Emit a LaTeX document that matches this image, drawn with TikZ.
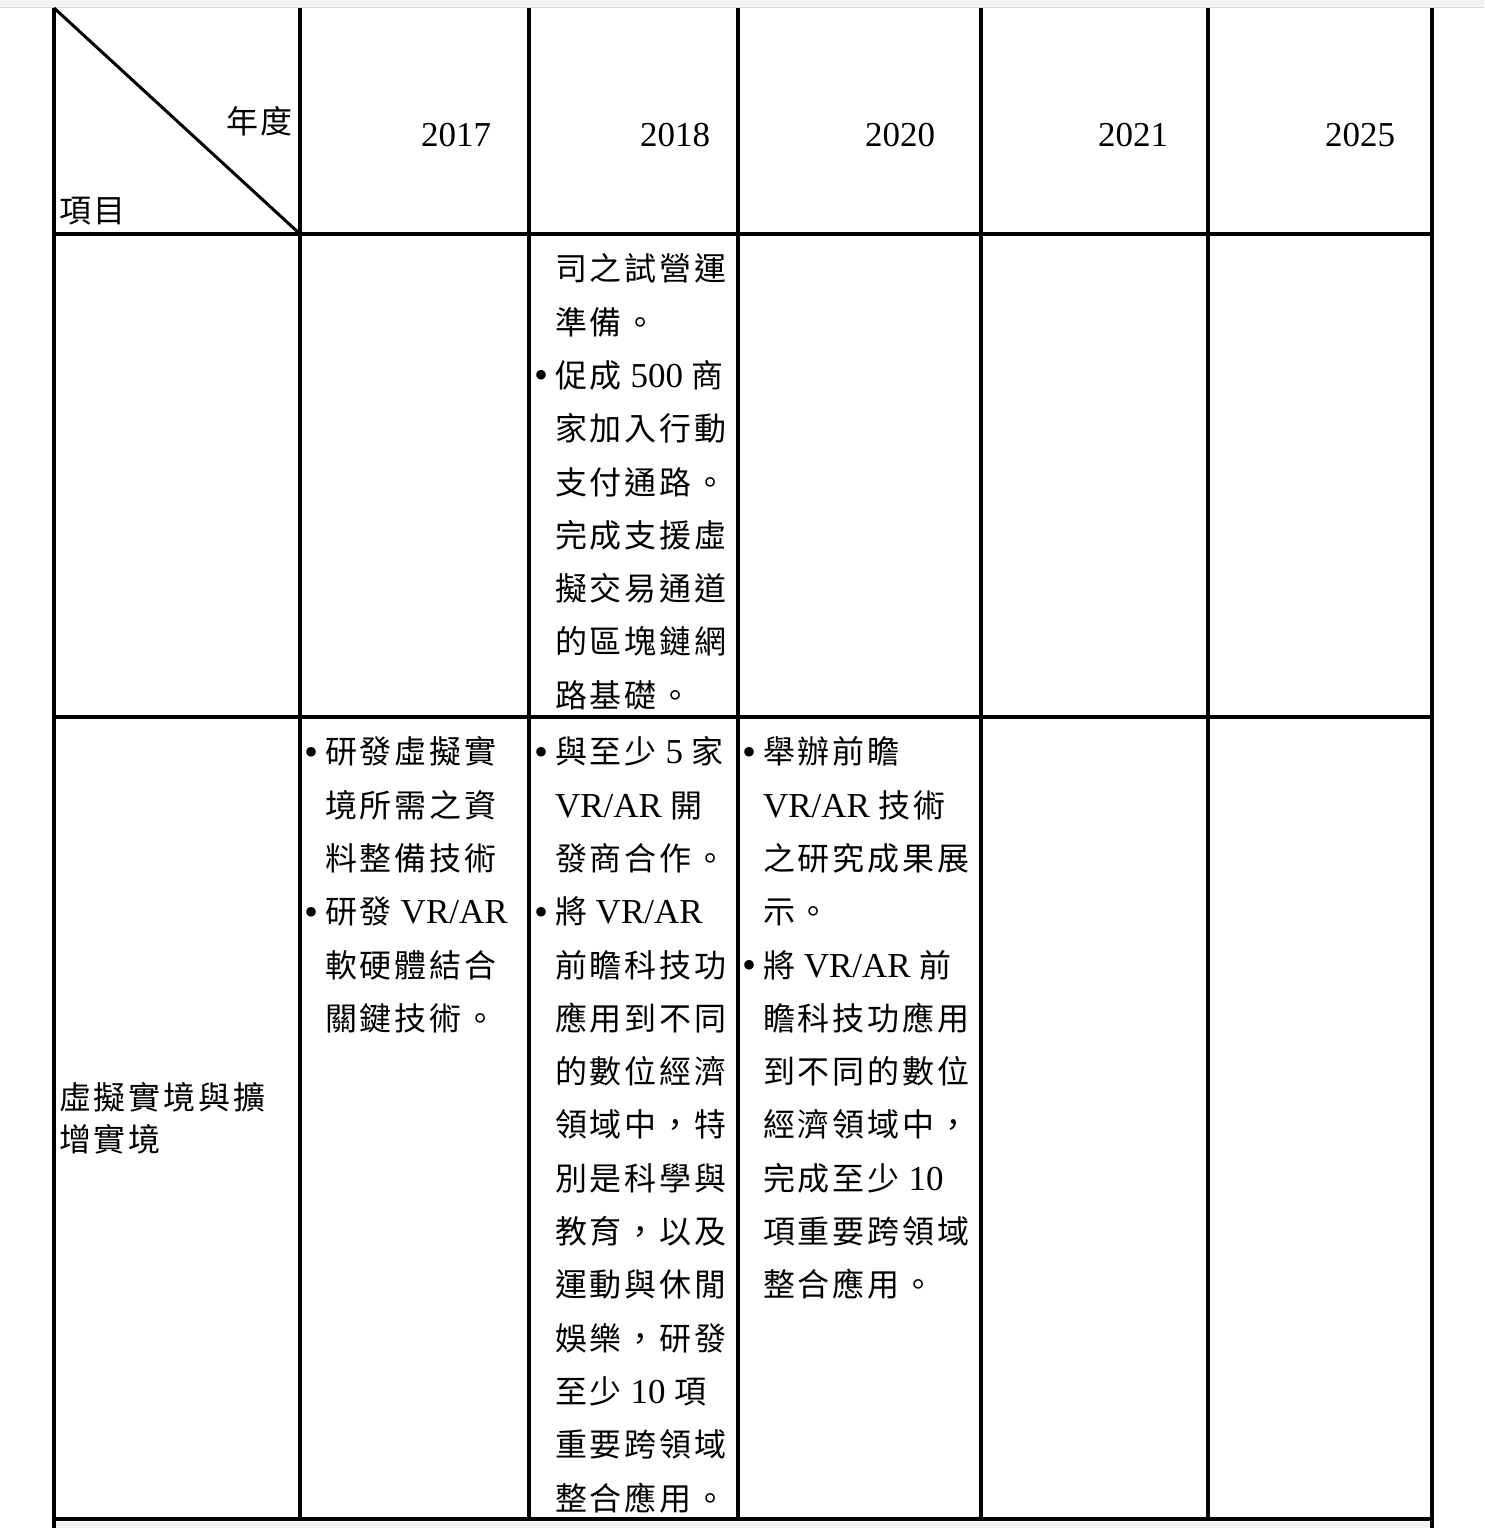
\documentclass[tikz,border=0pt]{standalone}
\usepackage{fontspec}
\setmainfont{Liberation Serif}
\newfontfamily\cjkfam{Noto Sans CJK TC}[Scale=0.914,LetterSpace=9.4]
\newcommand\zhtxt[1]{{\cjkfam #1}}
\newcommand\bul{\llap{\raisebox{-1.5pt}{\fontsize{40}{40}\selectfont •}\hspace{7pt}}}
\definecolor{stripgray}{HTML}{F2F2F2}
\definecolor{stripline}{HTML}{DADADA}
\begin{document}
\begin{tikzpicture}[x=1pt,y=-1pt,
  ln/.style={anchor=base west,inner sep=0pt,outer sep=0pt,font=\fontsize{35}{40}\selectfont},
  yr/.style={anchor=base east,inner sep=0pt,outer sep=0pt,font=\fontsize{35}{40}\selectfont},
  rule/.style={line width=3.5pt,black},
  diag/.style={line width=3pt,black}]
\useasboundingbox (0,0) rectangle (1484,1528);
% background strips
\fill[stripgray] (0,0) rectangle (1484,7.5);
\draw[stripline,line width=1pt] (0,7.5) -- (1484,7.5);
\fill[stripgray] (56,1521.5) rectangle (1430,1528);
% grid
\draw[rule] (54,8) -- (54,1528);
\draw[rule] (1432,8) -- (1432,1528);
\foreach \xx in {300,529,738,981,1208} \draw[rule] (\xx,8) -- (\xx,1519);
\foreach \yy in {234,717,1519} \draw[rule] (52.25,\yy) -- (1433.75,\yy);
\coordinate (dA) at (54,8);
\coordinate (dB) at (300,234);
\draw[diag] (dA) -- (dB);
% header
\node[ln] (hYear) at (226,133.4) {\zhtxt{年度}};
\node[ln] (hItem) at (59,222.4) {\zhtxt{項目}};
\node[yr] (y2017) at (491,146) {2017};
\node[yr] (y2018) at (710,146) {2018};
\node[yr] (y2020) at (935,146) {2020};
\node[yr] (y2021) at (1168,146) {2021};
\node[yr] (y2025) at (1395,146) {2025};
% row 1, 2018
\foreach \t [count=\i from 0] in {
  {\zhtxt{司之試營運}},
  {\zhtxt{準備。}},
  {\bul\zhtxt{促成} 500 \zhtxt{商}},
  {\zhtxt{家加入行動}},
  {\zhtxt{支付通路。}},
  {\zhtxt{完成支援虛}},
  {\zhtxt{擬交易通道}},
  {\zhtxt{的區塊鏈網}},
  {\zhtxt{路基礎。}}}
  \node[ln] (ra-\i) at (555,{280.8+53.3*\i}) {\t};
% row 2, item
\node[ln] (item1) at (59,1109) {\zhtxt{虛擬實境與擴}};
\node[ln] (item2) at (59,1151.5) {\zhtxt{增實境}};
% row 2, 2017
\foreach \t [count=\i from 0] in {
  {\bul\zhtxt{研發虛擬實}},
  {\zhtxt{境所需之資}},
  {\zhtxt{料整備技術}},
  {\bul\zhtxt{研發} VR/AR},
  {\zhtxt{軟硬體結合}},
  {\zhtxt{關鍵技術。}}}
  \node[ln] (rb-\i) at (325,{763.8+53.3*\i}) {\t};
% row 2, 2018
\foreach \t [count=\i from 0] in {
  {\bul\zhtxt{與至少} 5 \zhtxt{家}},
  {VR/AR \zhtxt{開}},
  {\zhtxt{發商合作。}},
  {\bul\zhtxt{將} VR/AR},
  {\zhtxt{前瞻科技功}},
  {\zhtxt{應用到不同}},
  {\zhtxt{的數位經濟}},
  {\zhtxt{領域中，特}},
  {\zhtxt{別是科學與}},
  {\zhtxt{教育，以及}},
  {\zhtxt{運動與休閒}},
  {\zhtxt{娛樂，研發}},
  {\zhtxt{至少} 10 \zhtxt{項}},
  {\zhtxt{重要跨領域}},
  {\zhtxt{整合應用。}}}
  \node[ln] (rc-\i) at (555,{763.8+53.3*\i}) {\t};
% row 2, 2020
\foreach \t [count=\i from 0] in {
  {\bul\zhtxt{舉辦前瞻}},
  {VR/AR \zhtxt{技術}},
  {\zhtxt{之研究成果展}},
  {\zhtxt{示。}},
  {\bul\zhtxt{將} VR/AR \zhtxt{前}},
  {\zhtxt{瞻科技功應用}},
  {\zhtxt{到不同的數位}},
  {\zhtxt{經濟領域中，}},
  {\zhtxt{完成至少} 10},
  {\zhtxt{項重要跨領域}},
  {\zhtxt{整合應用。}}}
  \node[ln] (rd-\i) at (763,{763.8+53.3*\i}) {\t};
\end{tikzpicture}
\end{document}
